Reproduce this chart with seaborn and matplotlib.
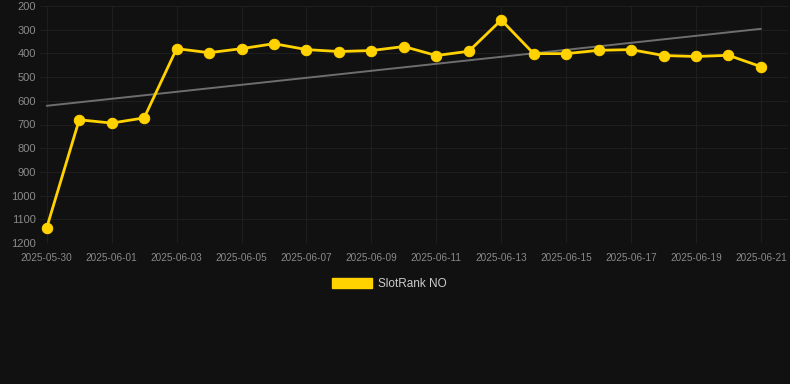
import numpy as np
import pandas as pd
import matplotlib
matplotlib.use("Agg")
import matplotlib.pyplot as plt
import matplotlib.dates as mdates
from matplotlib.patches import Patch
import seaborn as sns

# ---- data ----
dates = pd.date_range("2025-05-30", "2025-06-21", freq="D")
ranks = [1135, 680, 694, 672, 380, 397, 380, 359, 384, 392, 388, 371,
         409, 391, 259, 401, 401, 387, 384, 409, 413, 408, 456]
series_name = "SlotRank NO"
y_ticks = [200, 300, 400, 500, 600, 700, 800, 900, 1000, 1100, 1200]

df = pd.DataFrame({"date": dates, "rank": ranks})

# linear trend fitted to the series
xnum = np.arange(len(df))
slope, intercept = np.polyfit(xnum, df["rank"].values, 1)
df["trend"] = intercept + slope * xnum

BG = "#111111"
GRID = "#1e1e1e"
TICK = "#8a8a8a"
YELLOW = "#FFD200"

sns.set_theme(style="dark")
plt.rcParams["font.family"] = ["Liberation Sans", "DejaVu Sans"]

fig = plt.figure(figsize=(7.9, 3.84), dpi=100, facecolor=BG)
ax = fig.add_axes([40 / 790, 1 - 243 / 384, 748 / 790, 237 / 384])
ax.set_facecolor(BG)

sns.lineplot(data=df, x="date", y="trend", ax=ax, color="#6e6e6e",
             linewidth=1.4, legend=False)
sns.lineplot(data=df, x="date", y="rank", ax=ax, color=YELLOW,
             linewidth=2.0, marker="o", markersize=7.5,
             markeredgecolor=YELLOW, legend=False, clip_on=False, zorder=5)

ax.set_ylim(1200, 200)
ax.set_yticks(y_ticks)
ax.set_xlim(dates[0] - pd.Timedelta(hours=5), dates[-1] + pd.Timedelta(hours=20))
ax.xaxis.set_major_locator(mdates.DayLocator(interval=2))
ax.xaxis.set_major_formatter(mdates.DateFormatter("%Y-%m-%d"))

ax.grid(True, color=GRID, linewidth=0.8)
ax.tick_params(axis="x", colors=TICK, labelsize=7.2, length=5, color=GRID, pad=2)
ax.tick_params(axis="y", colors=TICK, labelsize=8, length=0, pad=3)
for lab in ax.get_yticklabels():
    lab.set_color(TICK)
for s in ax.spines.values():
    s.set_visible(False)
ax.set_xlabel("")
ax.set_ylabel("")

handle = Patch(facecolor=YELLOW, edgecolor=YELLOW)
fig.legend([handle], [series_name], loc="center", bbox_to_anchor=(389.5 / 790, 1 - 284 / 384),
           frameon=False, fontsize=8.5, labelcolor="#cccccc", handlelength=3.4,
           handleheight=1.0, handletextpad=0.5)

fig.savefig("out.png", dpi=100, facecolor=BG)
